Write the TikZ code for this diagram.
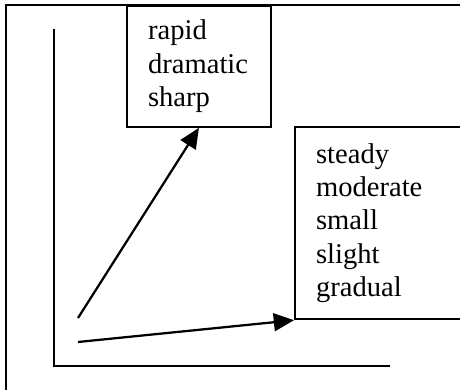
\documentclass[tikz,border=0pt]{standalone}
\usepackage{fontspec}
\setmainfont{Liberation Serif}
\usepackage{tikz}
\usetikzlibrary{arrows.meta, positioning}

\begin{document}
\begin{tikzpicture}[line width=0.95pt, font=\fontsize{12pt}{14pt}\selectfont,
    wordbox/.style={draw, align=left, inner xsep=8.8pt, inner ysep=0pt},
    arr/.style={-{Triangle[length=8.5pt, width=7.5pt]}}]
    % Rahmen und Zuschnitt
    \useasboundingbox (0,0) rectangle (6.79,5.742);
    \clip (0,0) rectangle (6.79,5.742);
    \draw (0.09,-1) rectangle (8,5.67);

    % Achsen
    \coordinate (ytop) at (0.80,5.31);
    \coordinate (origin) at (0.80,0.34);
    \coordinate (xend) at (5.76,0.34);
    \draw (ytop) -- (origin) -- (xend);

    % 1. schneller Anstieg
    \node[wordbox, anchor=north west, text width=42.7pt, minimum height=50.7pt]
        (fast) at (1.86,5.67) {rapid\\dramatic\\sharp};

    % 2. langsamer Anstieg
    \node[wordbox, anchor=north west, text width=60.4pt, minimum height=80.6pt]
        (slow) at (4.34,3.882) {steady\\moderate\\small\\slight\\gradual};

    % Pfeile
    \coordinate (steep) at (1.151,1.048);
    \coordinate (flat) at (1.151,0.694);
    \draw[arr] (steep) -- (fast.south);
    \draw[arr] (flat) -- (slow.south west);
\end{tikzpicture}
\end{document}
